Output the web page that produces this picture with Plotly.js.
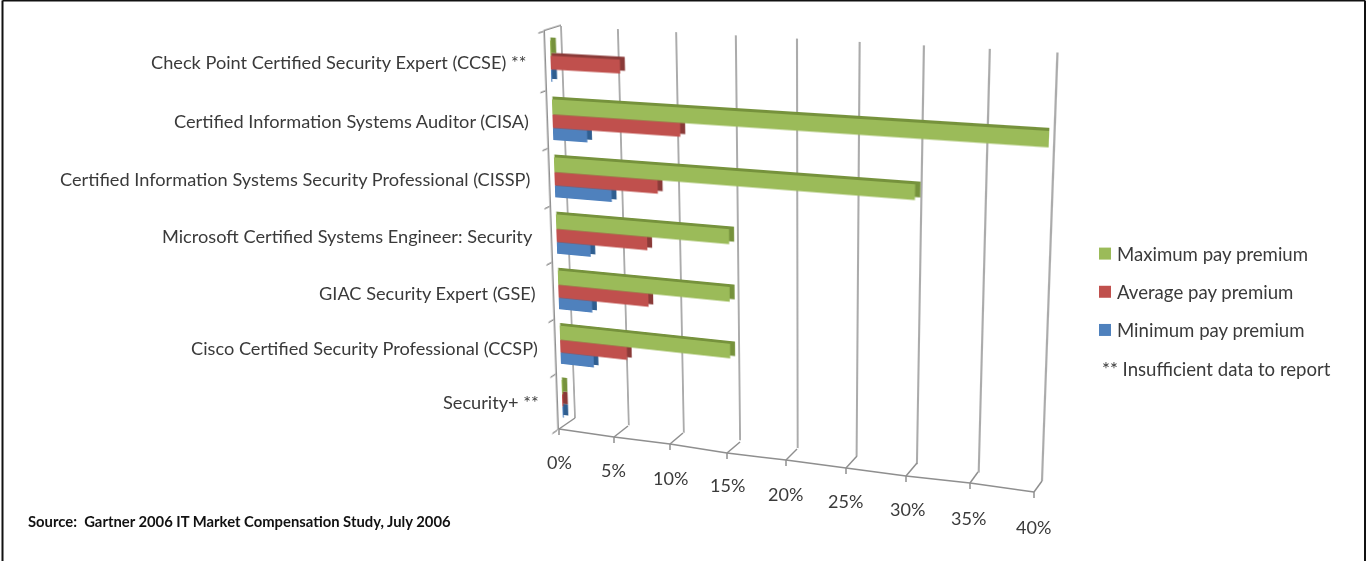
<!DOCTYPE html>
<html><head><meta charset="utf-8">
<script src="https://cdn.plot.ly/plotly-3.0.1.min.js"></script>
<style>
html,body{margin:0;padding:0;background:#fff;overflow:hidden}
#stage{position:relative;width:1367px;height:561px;overflow:hidden;background:#fff}
.layer{position:absolute;left:0;top:0;transform-origin:0 0}
.layer.warped path{shape-rendering:geometricPrecision !important}
</style></head>
<body><div id="stage"></div>
<script>
// ---------- data ----------
const categories = [
  "Check Point Certified Security Expert (CCSE) **",
  "Certified Information Systems Auditor (CISA)",
  "Certified Information Systems Security Professional (CISSP)",
  "Microsoft Certified Systems Engineer: Security",
  "GIAC Security Expert (GSE)",
  "Cisco Certified Security Professional (CCSP)",
  "Security+ **"
];
const maximumPremium = [0.1, 40, 30, 15, 15, 15, 0.1];
const averagePremium = [6, 11, 9, 8, 8, 6, 0.1];
const minimumPremium = [0.1, 3, 5, 3, 3, 3, 0.1];
const seriesNames = ["Maximum pay premium", "Average pay premium", "Minimum pay premium"];
const xTickLabels = ["0%","5%","10%","15%","20%","25%","30%","35%","40%"];
const footnote = "** Insufficient data to report";
const sourceNote = "Source:  Gartner 2006 IT Market Compensation Study, July 2006";

// ---------- styling / placement ----------
const FONT = "Lato, Carlito, 'Open Sans', sans-serif";
const TEXT = "#3a3a3a";
const GRID = "#8f8f8f";
const faces = {max:"#9bbb59", avg:"#c0504d", min:"#4f81bd"};
const sides = {max:"#76923c", avg:"#8a3a38", min:"#2f5e90"};
const catLabelPos = [[528,62],[531,121],[533,179],[535,236],[538,293],[540,348],[541,402]];
const xLabelPos = [[559,462],[613,470],[670,478],[727,485],[785,494],[845,501],[907,509],[968,518],[1033,527]];
const sideTickPos = [0,1.055,2.075,3.095,4.08,5.08,6.03,7];
// floor of the 3-D box: where each gridline meets the back wall and the front edge
const floorBackPx  = [[575,418],[628,426],[683,433],[740,442],[797,449],[857,456],[917,463],[978,472],[1042,481]];
const floorFrontPx = [[559,429],[614,437],[670,444],[727,453],[786,460],[846,468],[906,476],[970,483],[1034,492]];

// planes of the 3-D box, as page pixels: TL, TR, BR, BL
const Q_WALL  = [[561,26],[1057.5,52.5],[1042,481],[575,418]];
const Q_SIDE  = [[545,31],[561,26],[575,418],[559,429]];
const Q_BARS  = [[549.6,31.5],[1052,57],[1036.4,485],[563,425.5]];

function homography(src, dst){
  const A=[];
  for(let i=0;i<4;i++){
    const [x,y]=src[i],[u,v]=dst[i];
    A.push([x,y,1,0,0,0,-x*u,-y*u,u]);
    A.push([0,0,0,x,y,1,-x*v,-y*v,v]);
  }
  for(let c=0;c<8;c++){
    let p=c; for(let r=c+1;r<8;r++) if(Math.abs(A[r][c])>Math.abs(A[p][c])) p=r;
    [A[c],A[p]]=[A[p],A[c]];
    for(let r=0;r<8;r++){ if(r===c) continue;
      const f=A[r][c]/A[c][c];
      for(let k=c;k<9;k++) A[r][k]-=f*A[c][k];
    }
  }
  const h=A.map((row,i)=>row[8]/row[i]);
  return `matrix3d(${h[0]},${h[3]},0,${h[6]},${h[1]},${h[4]},0,${h[7]},0,0,1,0,${h[2]},${h[5]},0,1)`;
}

function tilted(traces, layout, quad, w, h, inset){
  const m=12, W=w+2*m, H=h+2*m, i=inset||0;
  const div=document.createElement('div'); div.className='layer warped';
  document.getElementById('stage').appendChild(div);
  const full=Object.assign({width:W,height:H,margin:{l:m,r:m,t:m,b:m,pad:0,autoexpand:false},
    paper_bgcolor:'rgba(0,0,0,0)',plot_bgcolor:'rgba(0,0,0,0)',showlegend:false},layout);
  Plotly.newPlot(div,traces,full,{staticPlot:true,displayModeBar:false});
  div.style.transform=homography([[m+i,m],[m+w-i,m],[m+w-i,m+h],[m+i,m+h]],quad);
  return div;
}
const hiddenY={visible:false,range:[0,1],fixedrange:true};
const noData=[{x:[null],y:[null],type:'scatter',mode:'lines',hoverinfo:'skip'}];

// back wall: gridlines (axis range is one unit wider so that 0% and 40% are drawn)
tilted(noData,{xaxis:{range:[-1,41],tick0:0,dtick:5,showticklabels:false,zeroline:false,showgrid:true,gridcolor:GRID,gridwidth:1.5,ticks:''},yaxis:hiddenY},Q_WALL,504,420,12);
// side wall: category axis with ticks
tilted(noData,{
  xaxis:{range:[0,1],side:'top',showline:true,linecolor:GRID,linewidth:1.5,showgrid:false,zeroline:false,showticklabels:false,ticks:''},
  yaxis:{range:[7,0],tickmode:'array',tickvals:sideTickPos,showticklabels:false,ticks:'outside',ticklen:5,tickwidth:1.5,tickcolor:GRID,showline:true,linecolor:GRID,linewidth:1.5,showgrid:false,zeroline:false}
},Q_SIDE,16,400);

// bars
const DEPTH_X=0.42, DEPTH_Y=0.05, BASE=0.05;
function barPair(vals,face,side,off,wd){
  const common={type:'bar',orientation:'h',y:categories,width:wd,cliponaxis:false,hoverinfo:'skip'};
  return [
    Object.assign({},common,{x:vals.map(v=>v+DEPTH_X-BASE),base:BASE,offset:off-DEPTH_Y,marker:{color:side,line:{width:0}}}),
    Object.assign({},common,{x:vals,offset:off,marker:{color:face,line:{width:0}}})
  ];
}
tilted([
  ...barPair(minimumPremium,faces.min,sides.min,0.14,0.21),
  ...barPair(averagePremium,faces.avg,sides.avg,-0.09,0.23),
  ...barPair(maximumPremium,faces.max,sides.max,-0.35,0.26)
],{barmode:'overlay',
   xaxis:{range:[0,40],visible:false,fixedrange:true},
   yaxis:{type:'category',categoryorder:'array',categoryarray:categories,range:[6.5,-0.5],visible:false,fixedrange:true}
},Q_BARS,490,420);

// flat overlay: all text, legend, floor lines, picture frame
const annotations=[];
categories.forEach((c,i)=>annotations.push({x:catLabelPos[i][0],y:catLabelPos[i][1],text:c,xanchor:'right',yanchor:'middle',showarrow:false,font:{family:FONT,size:18.2,color:TEXT}}));
xTickLabels.forEach((c,i)=>annotations.push({x:xLabelPos[i][0],y:xLabelPos[i][1],text:c,xanchor:'center',yanchor:'middle',showarrow:false,font:{family:FONT,size:18,color:TEXT}}));
annotations.push({x:1100,y:369,text:footnote,xanchor:'left',yanchor:'middle',showarrow:false,font:{family:FONT,size:18.6,color:TEXT}});
annotations.push({x:26,y:521,text:"<b>"+sourceNote+"</b>",xanchor:'left',yanchor:'middle',showarrow:false,font:{family:FONT,size:14.8,color:"#111"}});

const line=(a,b,c,w)=>({type:'line',xref:'x',yref:'y',x0:a[0],y0:a[1],x1:b[0],y1:b[1],line:{color:c,width:w}});
const shapes=[[[2.5,0.5],[2.5,561]],[[2.5,0.5],[1365,0.5]],[[1365,0.5],[1365,561]]].map(p=>line(p[0],p[1],'#111',2));
floorFrontPx.forEach((f,i)=>{
  shapes.push(line(floorBackPx[i],f,GRID,1.5));                 // gridline running across the floor
  shapes.push(line(f,[f[0],f[1]+6],GRID,1.5));                  // tick mark
  if(i) shapes.push(line(floorFrontPx[i-1],f,GRID,1.5));        // front axis
});

const legendTraces=[[seriesNames[0],faces.max],[seriesNames[1],faces.avg],[seriesNames[2],faces.min]].map(([n,c],i)=>({type:'bar',x:[null],y:[null],name:n,legendgroup:'g'+i,marker:{color:c},showlegend:true,hoverinfo:'skip'}));

const overlayDiv=document.createElement('div'); overlayDiv.className='layer'; overlayDiv.id='overlay';
document.getElementById('stage').appendChild(overlayDiv);
Plotly.newPlot(overlayDiv,legendTraces,{
  width:1367,height:561,margin:{l:0,r:0,t:0,b:0,autoexpand:false},
  paper_bgcolor:'rgba(0,0,0,0)',plot_bgcolor:'rgba(0,0,0,0)',
  xaxis:{range:[0,1367],visible:false,fixedrange:true},
  yaxis:{range:[561,0],visible:false,fixedrange:true},
  showlegend:true,
  legend:{x:1085/1367,y:1-235/561,xanchor:'left',yanchor:'top',bgcolor:'rgba(0,0,0,0)',traceorder:'grouped',tracegroupgap:11,font:{family:FONT,size:18.6,color:TEXT}},
  annotations:annotations,shapes:shapes
},{staticPlot:true,displayModeBar:false}).then(()=>{
  document.querySelectorAll('#overlay .legendtext').forEach(t=>t.setAttribute('x',32));
});
</script></body></html>
